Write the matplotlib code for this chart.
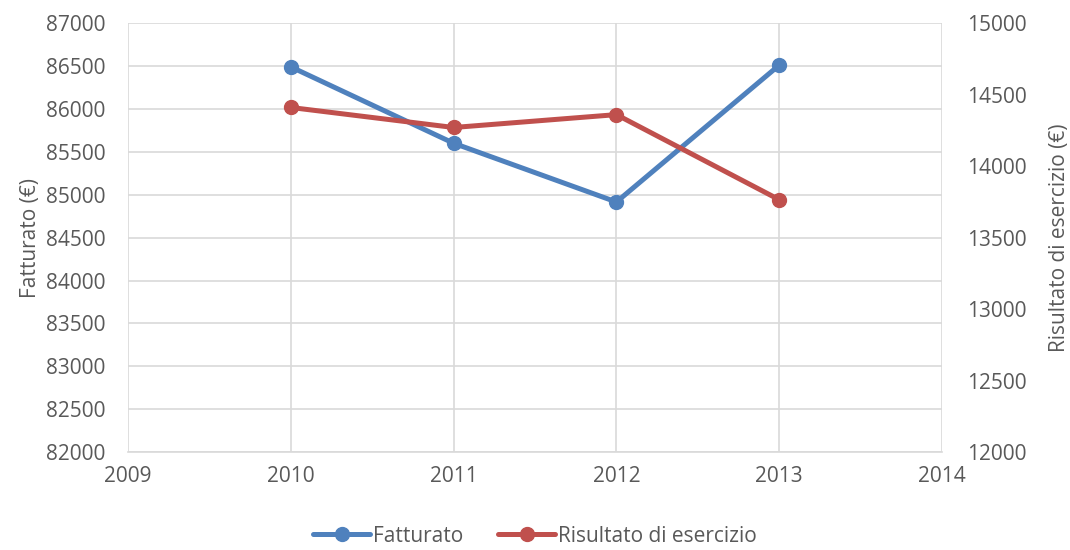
import matplotlib.pyplot as plt

# Dati annuali
anni = [2010, 2011, 2012, 2013]
fatturato = [86490, 85600, 84915, 86510]
risultato = [14410, 14270, 14360, 13765]

plt.rcParams["font.family"] = ["Open Sans", "DejaVu Sans"]
testo = "#595959"
griglia = "#D9D9D9"
blu = "#4F81BD"
rosso = "#C0504D"

fig = plt.figure(figsize=(10.7, 5.5), dpi=100)
ax = fig.add_axes([0.1196, 0.178, 0.7608, 0.780])
ax2 = ax.twinx()

l1, = ax.plot(anni, fatturato, color=blu, lw=3.6, marker="o", ms=10,
              label="Fatturato", solid_capstyle="round", zorder=3)
l2, = ax2.plot(anni, risultato, color=rosso, lw=3.6, marker="o", ms=10,
               label="Risultato di esercizio", solid_capstyle="round", zorder=3)

ax.set_xlim(2009, 2014)
ax.set_xticks(range(2009, 2015))
ax.set_ylim(82000, 87000)
ax.set_yticks(range(82000, 87001, 500))
ax2.set_ylim(12000, 15000)
ax2.set_yticks(range(12000, 15001, 500))

ax.grid(True, color=griglia, lw=1.2)
ax.set_axisbelow(True)
for a in (ax, ax2):
    for s in a.spines.values():
        s.set_visible(False)
    a.tick_params(length=0, labelsize=15, labelcolor=testo)
ax.tick_params(axis="y", pad=16)
ax.tick_params(axis="x", pad=10)
ax2.tick_params(axis="y", pad=18)
ax.spines["bottom"].set_visible(True)
ax.spines["bottom"].set_color(griglia)
ax.spines["bottom"].set_linewidth(1.2)

ax.set_ylabel("Fatturato (€)", fontsize=15, color=testo, labelpad=4)
ax2.set_ylabel("Risultato di esercizio (€)", fontsize=15, color=testo, labelpad=16)

fig.legend(handles=[l1, l2], loc="lower center", bbox_to_anchor=(0.5, -0.028),
           ncol=2, frameon=False, fontsize=15, labelcolor=testo,
           handlelength=2.7, handletextpad=0.15, columnspacing=1.7)

fig.savefig("out.png", dpi=100)
